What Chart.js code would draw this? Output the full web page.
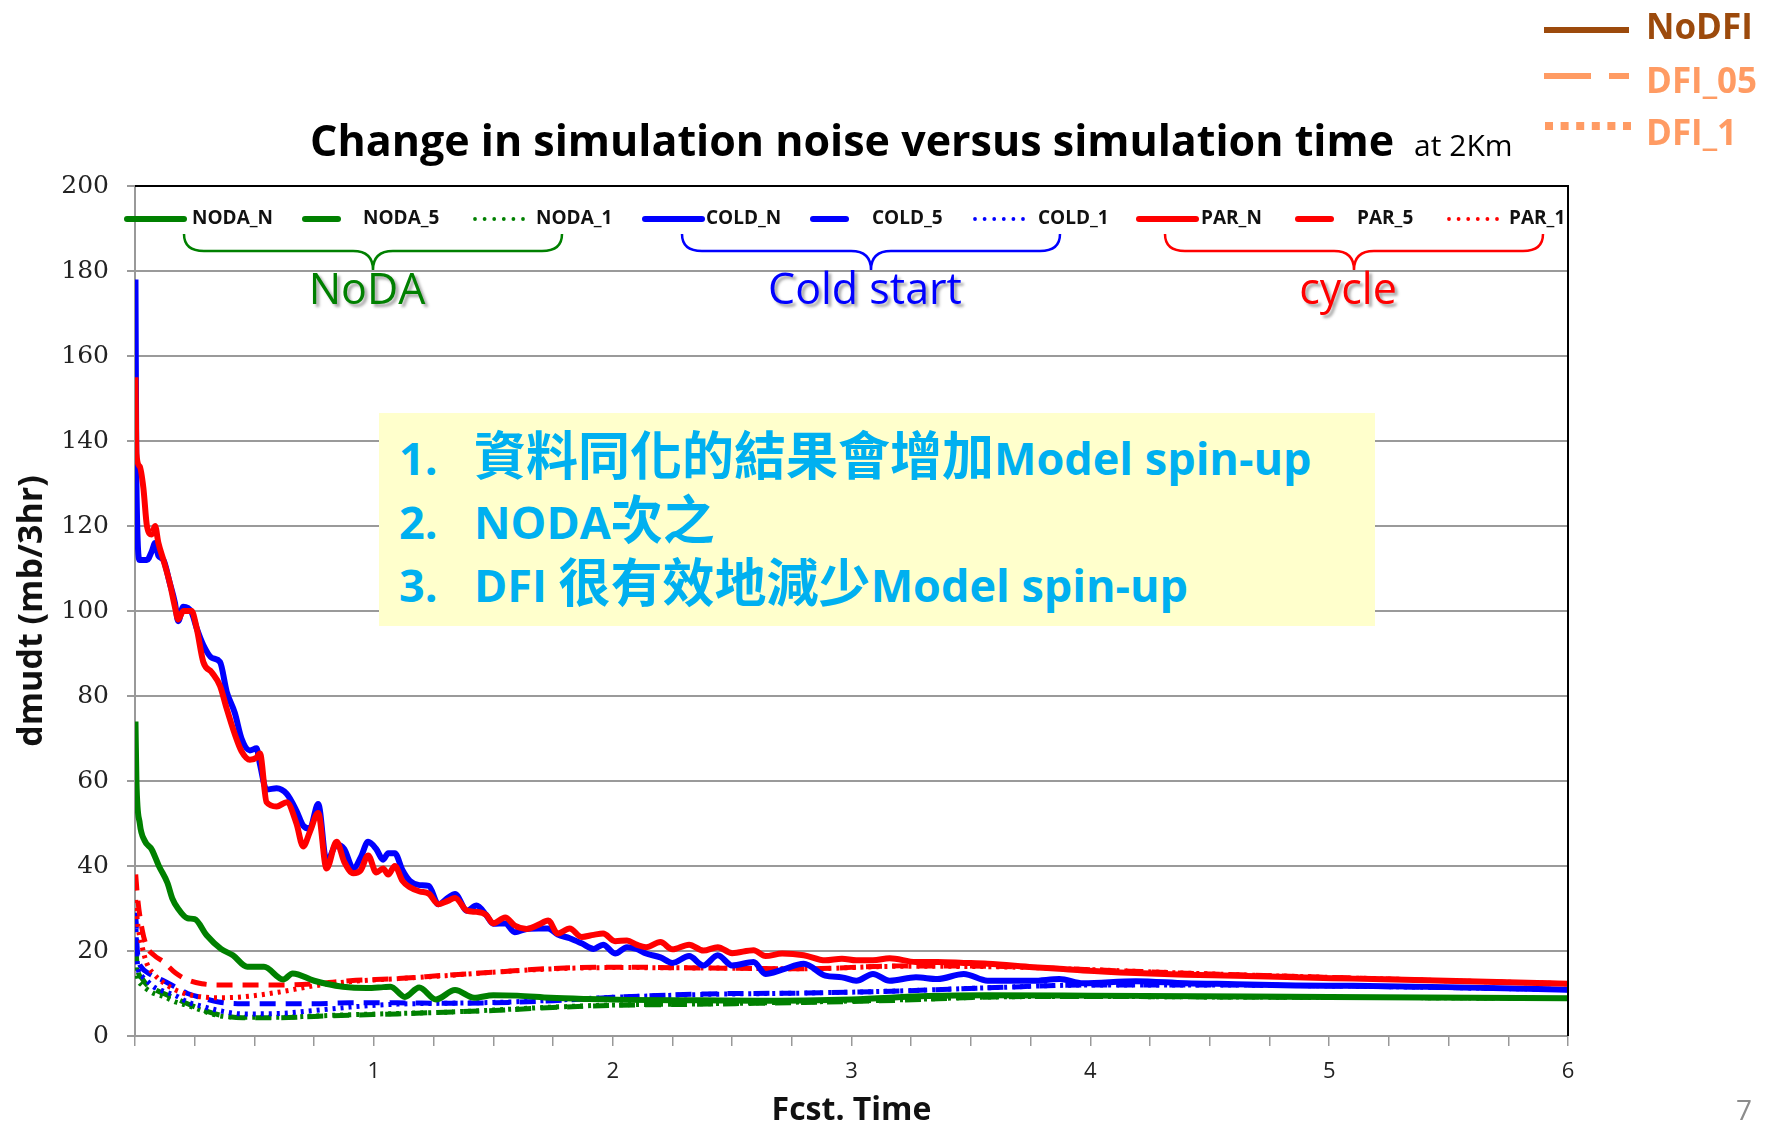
<!DOCTYPE html>
<html lang="zh-Hant">
<head>
<meta charset="UTF-8">
<title>Change in simulation noise versus simulation time</title>
<script src="https://cdn.jsdelivr.net/npm/chart.js"></script>
<style>
  html, body { margin: 0; padding: 0; background: #fff; }
  #wrap { position: relative; width: 1769px; height: 1127px; overflow: hidden; }
  #note { position: absolute; left: 379px; top: 413px; width: 996px; height: 213px; background: #ffffcc;
          color: #00b0f0; font-family: "Open Sans", "Noto Sans CJK TC", sans-serif; font-weight: bold; }
  .ln { position: absolute; left: 20px; height: 64px; line-height: 64px; white-space: pre; font-size: 45px; }
  .num { display: inline-block; width: 75px; }
  .zh { font-family: "Noto Sans CJK TC", sans-serif; font-size: 52px; }
  #page { position: absolute; left: 1736px; top: 1090px; font: 28px "Open Sans"; color: #8c8c8c; }
</style>
</head>
<body>
<div id="wrap">
  <canvas id="grafico" width="1769" height="1127"></canvas>
  <div id="note">
    <div class="ln" style="top:8px"><span class="num">1.</span><span class="zh">資料同化的結果會增加</span>Model spin-up</div>
    <div class="ln" style="top:72px"><span class="num">2.</span>NODA<span class="zh">次之</span></div>
    <div class="ln" style="top:135px"><span class="num">3.</span>DFI <span class="zh">很有效地減少</span>Model spin-up</div>
  </div>
  <div id="page">7</div>
</div>

<script>
// ---- data ----
const xTitle = 'Fcst. Time';
const yTitle = 'dmudt (mb/3hr)';
const seriesNames = ['NODA_N', 'NODA_5', 'NODA_1', 'COLD_N', 'COLD_5', 'COLD_1', 'PAR_N', 'PAR_5', 'PAR_1'];

// time for the COLD_N / PAR_N curves
const tN = [0.002, 0.006, 0.02, 0.035, 0.05, 0.07, 0.084, 0.098, 0.119, 0.146,
    0.167, 0.181, 0.202, 0.237, 0.258, 0.286, 0.321, 0.356, 0.384, 0.418,
    0.446, 0.481, 0.509, 0.523, 0.551, 0.593, 0.635, 0.676, 0.704, 0.732,
    0.767, 0.802, 0.844, 0.876, 0.914, 0.945, 0.976, 1.01, 1.039, 1.06,
    1.088, 1.12, 1.151, 1.192, 1.23, 1.27, 1.31, 1.34, 1.39, 1.43,
    1.47, 1.5, 1.55, 1.59, 1.64, 1.69, 1.73, 1.77, 1.82, 1.87,
    1.92, 1.96, 2.01, 2.06, 2.1, 2.14, 2.2, 2.25, 2.32, 2.38,
    2.44, 2.5, 2.59, 2.64, 2.71, 2.8, 2.89, 2.96, 3.02, 3.09,
    3.16, 3.27, 3.36, 3.47, 3.57, 3.76, 3.87, 3.97, 4.19, 4.4,
    4.61, 4.86, 5.1, 5.49, 6.0];
const coldN = [178, 130, 112, 112, 112, 114, 116, 113, 112, 106.5,
    102, 97.6, 101, 99.7, 96, 92, 89, 88, 81, 76,
    70, 67.2, 67.7, 64, 58, 58.3, 57, 53, 49.5, 48.8,
    54.6, 41, 45, 44, 39.4, 42, 45.7, 44, 41.5, 43,
    43, 39, 36.5, 35.5, 35.3, 31, 32.5, 33.4, 29.5, 30.7,
    28.5, 26.4, 26.5, 24.4, 25.2, 25.3, 25.3, 23.9, 23, 21.8,
    20.5, 21.5, 19.4, 20.9, 20.5, 19.4, 18.5, 17.2, 18.8, 16.6,
    19, 16.6, 17.4, 14.6, 15.6, 17, 14.2, 13.8, 13, 14.6,
    13, 13.8, 13.4, 14.6, 13, 13, 13.4, 12.4, 12.9, 12.4,
    12.2, 11.9, 11.8, 11.5, 10.9];
const parN = [155, 137, 134, 129, 120, 118, 120, 116, 112, 106.5,
    101, 98, 100, 100, 96, 88, 85.6, 82.4, 77, 71,
    67, 65, 65.5, 66.5, 55, 54, 55, 50, 44.6, 48,
    52.5, 39.4, 45.7, 41, 38.3, 39, 42.5, 38.5, 39.4, 38,
    40, 36.5, 35, 34, 33.5, 31, 31.8, 32.5, 29.5, 29.2,
    28.5, 26.5, 27.9, 26, 25.2, 26.2, 27.2, 24.1, 25.3, 23.3,
    23.8, 24.1, 22.3, 22.5, 21.5, 20.9, 22.1, 20.4, 21.5, 20.1,
    20.9, 19.5, 20.2, 18.8, 19.4, 19, 17.8, 18.2, 17.8, 17.8,
    18.3, 17.4, 17.4, 17.2, 17, 16.2, 15.8, 15.4, 14.8, 14.4,
    14.2, 13.8, 13.5, 13, 12.3];

// time for NODA_N
const tNoda = [0.002, 0.006, 0.02, 0.04, 0.07, 0.1, 0.136, 0.156, 0.18, 0.22,
    0.25, 0.3, 0.36, 0.41, 0.47, 0.54, 0.62, 0.66, 0.75, 0.8,
    0.87, 0.97, 1.04, 1.07, 1.13, 1.19, 1.26, 1.34, 1.42, 1.5,
    1.6, 1.74, 1.9, 2.06, 2.37, 2.6, 3.0, 3.32, 3.56, 4.0,
    5.0, 6.0];
const nodaN = [74, 60, 50, 46, 43.9, 40, 36, 32.4, 30, 27.7,
    27.5, 23.7, 20.5, 19, 16.3, 16.3, 13.3, 14.7, 13, 12.3,
    11.6, 11.3, 11.5, 11.6, 9.2, 11.4, 8.6, 10.8, 9, 9.6,
    9.5, 9, 8.7, 8.5, 8.4, 8.3, 8.6, 9.4, 9.6, 9.5,
    9.2, 8.9];

// time for the DFI runs (_5 and _1)
const tLow = [0.003, 0.01, 0.03, 0.05, 0.08, 0.12, 0.17, 0.22, 0.28, 0.35,
    0.45, 0.6, 0.75, 0.9, 1.1, 1.3, 1.5, 1.75, 2.0, 2.4,
    2.8, 3.2, 3.6, 4.0, 4.5, 5.0, 5.5, 6.0];
const noda5 = [21, 16, 13.5, 12, 11, 10, 8.8, 7.6, 6.2, 5, 4.3, 4.3, 4.6, 4.9, 5.2, 5.6, 6, 6.7, 7.2, 7.5, 7.9, 8.4, 9.2, 9.3, 9.2, 9.1, 9, 8.8];
const noda1 = [18, 14, 12, 11, 10, 9.3, 8, 7.2, 6, 4.8, 4.4, 4.4, 4.7, 5, 5.3, 5.6, 6.1, 6.8, 7.3, 7.6, 8, 8.5, 9.2, 9.3, 9.2, 9.1, 9, 8.8];
const cold5 = [29, 20, 16, 15, 14, 13, 11.5, 10, 9, 8, 7.6, 7.6, 7.6, 7.8, 7.8, 7.7, 7.8, 8.3, 9.1, 9.9, 10.1, 10.6, 11.4, 12, 12, 11.8, 11.4, 10.9];
const cold1 = [27, 17, 14, 13, 11.5, 10.5, 9.5, 8, 7, 6, 5.2, 5.3, 6, 6.8, 7.5, 7.7, 7.9, 8.4, 9.1, 9.8, 10.1, 10.6, 11.4, 12, 12, 11.8, 11.4, 10.9];
const par5 = [38, 33, 25, 21, 19, 17.4, 14.8, 13.2, 12.3, 12, 12, 12, 12.3, 13, 13.5, 14.3, 15, 15.9, 16.2, 16, 15.8, 16.5, 16.4, 15.6, 14.6, 13.8, 13, 12.3];
const par1 = [32, 27, 21, 17, 14.5, 12.5, 10.8, 9.8, 9.2, 9, 9.2, 10.3, 11.8, 12.8, 13.5, 14.2, 15, 15.8, 16.1, 16, 15.8, 16.4, 16.3, 15.6, 14.6, 13.8, 13, 12.3];

// ---- styles ----
const VERDE = '#008000', AZUL = '#0000ff', VERMELHO = '#ff0000';
const SOLIDO = [], TRACO = [16, 10], PONTO = [3, 5];

function pontos(t, v) {
    return t.map((x, i) => ({ x: x, y: v[i] }));
}

function serie(i, t, v, cor, dash, ordem) {
    return {
        label: seriesNames[i],
        data: pontos(t, v),
        borderColor: cor,
        backgroundColor: cor,
        borderWidth: dash.length ? 5 : 6,
        borderDash: dash,
        borderJoinStyle: 'round',
        pointRadius: 0,
        cubicInterpolationMode: 'monotone',
        fill: false,
        order: ordem
    };
}

const datasets = [
    serie(0, tNoda, nodaN, VERDE, SOLIDO, 2),
    serie(1, tLow, noda5, VERDE, TRACO, 7),
    serie(2, tLow, noda1, VERDE, PONTO, 8),
    serie(3, tN, coldN, AZUL, SOLIDO, 1),
    serie(4, tLow, cold5, AZUL, TRACO, 5),
    serie(5, tLow, cold1, AZUL, PONTO, 6),
    serie(6, tN, parN, VERMELHO, SOLIDO, 0),
    serie(7, tLow, par5, VERMELHO, TRACO, 3),
    serie(8, tLow, par1, VERMELHO, PONTO, 4)
];

// where each legend entry sits (sample start, text start)
const legendaPos = [[127, 192], [302, 363], [472, 536], [645, 706], [810, 872], [972, 1038], [1139, 1201], [1295, 1357], [1446, 1509]];
const grupos = [
    { nome: 'NoDA', cor: VERDE, x1: 184, x2: 562 },
    { nome: 'Cold start', cor: AZUL, x1: 682, x2: 1060 },
    { nome: 'cycle', cor: VERMELHO, x1: 1165, x2: 1543 }
];

function chave(ctx, x1, x2, yTopo, yMeio, yPonta, r) {
    const xc = (x1 + x2) / 2;
    ctx.beginPath();
    ctx.moveTo(x1, yTopo);
    ctx.quadraticCurveTo(x1, yMeio, x1 + r, yMeio);
    ctx.lineTo(xc - r, yMeio);
    ctx.quadraticCurveTo(xc, yMeio, xc, yPonta);
    ctx.moveTo(x2, yTopo);
    ctx.quadraticCurveTo(x2, yMeio, x2 - r, yMeio);
    ctx.lineTo(xc + r, yMeio);
    ctx.quadraticCurveTo(xc, yMeio, xc, yPonta);
    ctx.stroke();
}

const decor = {
    id: 'decor',
    afterDraw(chart) {
        const ctx = chart.ctx;
        const a = chart.chartArea;
        ctx.save();

        // right frame
        ctx.strokeStyle = '#000';
        ctx.lineWidth = 2;
        ctx.beginPath();
        ctx.moveTo(a.left, a.top);
        ctx.lineTo(a.right, a.top);
        ctx.lineTo(a.right, a.bottom);
        ctx.stroke();

        // title
        ctx.fillStyle = '#000';
        ctx.textBaseline = 'alphabetic';
        ctx.textAlign = 'left';
        ctx.font = 'bold 43px "Open Sans"';
        const titulo = 'Change in simulation noise versus simulation time';
        ctx.fillText(titulo, 310, 156);
        const w = ctx.measureText(titulo).width;
        ctx.font = '30px "Open Sans"';
        ctx.fillText('at 2Km', 310 + w + 20, 156);

        // legend inside the plot
        const y = 219;
        chart.data.datasets.forEach((ds, i) => {
            const [xs, xt] = legendaPos[i];
            ctx.strokeStyle = ds.borderColor;
            ctx.fillStyle = ds.borderColor;
            if (ds.borderDash.length === 0) {
                ctx.lineWidth = 6;
                ctx.lineCap = 'round';
                ctx.beginPath(); ctx.moveTo(xs, y); ctx.lineTo(xs + 57, y); ctx.stroke();
            } else if (ds.borderDash[0] > 5) {
                ctx.lineWidth = 6;
                ctx.lineCap = 'round';
                ctx.beginPath(); ctx.moveTo(xs + 3, y); ctx.lineTo(xs + 36, y); ctx.stroke();
            } else {
                for (let k = 0; k < 6; k++) {
                    ctx.beginPath(); ctx.arc(xs + 3 + k * 9.6, y, 1.9, 0, Math.PI * 2); ctx.fill();
                }
            }
            ctx.fillStyle = '#111';
            ctx.font = 'bold 19px "Open Sans"';
            ctx.textBaseline = 'middle';
            ctx.fillText(ds.label, xt, y);
        });

        // braces + group names
        grupos.forEach(g => {
            ctx.strokeStyle = g.cor;
            ctx.lineWidth = 2.5;
            ctx.lineCap = 'butt';
            chave(ctx, g.x1, g.x2, 234, 251, 270, 20);
            ctx.save();
            ctx.shadowColor = 'rgba(0,0,0,0.35)';
            ctx.shadowOffsetX = 3;
            ctx.shadowOffsetY = 3;
            ctx.shadowBlur = 3;
            ctx.fillStyle = g.cor;
            ctx.font = '43px "Open Sans"';
            ctx.textAlign = 'center';
            ctx.textBaseline = 'alphabetic';
            ctx.fillText(g.nome, (g.x1 + g.x2) / 2 - 6, 304);
            ctx.restore();
        });

        // DFI key, top right
        ctx.lineCap = 'butt';
        ctx.lineWidth = 6;
        ctx.strokeStyle = '#9c4a0c';
        ctx.beginPath(); ctx.moveTo(1544, 30); ctx.lineTo(1629, 30); ctx.stroke();
        ctx.strokeStyle = '#ff9b63';
        ctx.beginPath(); ctx.moveTo(1544, 76); ctx.lineTo(1591, 76); ctx.moveTo(1609, 76); ctx.lineTo(1629, 76); ctx.stroke();
        ctx.fillStyle = '#ff9b63';
        for (let k = 0; k < 6; k++) ctx.fillRect(1545 + k * 15.6, 122, 8, 8);
        ctx.font = 'bold 35px "Open Sans"';
        ctx.textAlign = 'left';
        ctx.textBaseline = 'alphabetic';
        ctx.fillStyle = '#9c4a0c';
        ctx.fillText('NoDFI', 1646, 39);
        ctx.fillStyle = '#ff9b63';
        ctx.fillText('DFI_05', 1646, 93);
        ctx.fillText('DFI_1', 1646, 145);

        ctx.restore();
    }
};

const config = {
    type: 'line',
    data: { datasets: datasets },
    options: {
        responsive: false,
        animation: false,
        devicePixelRatio: 1,
        events: [],
        layout: { padding: { top: 186, right: 201, bottom: 0, left: 0 } },
        plugins: { legend: { display: false }, tooltip: { enabled: false }, title: { display: false } },
        scales: {
            x: {
                type: 'linear', min: 0, max: 6,
                ticks: {
                    stepSize: 0.25, autoSkip: false, maxRotation: 0, padding: 13, color: '#222',
                    font: { family: '"Open Sans"', size: 22 },
                    callback: v => (v > 0 && Number.isInteger(v)) ? String(v) : ''
                },
                grid: { drawOnChartArea: false, drawTicks: true, tickLength: 10, color: '#999', lineWidth: 1.5 },
                border: { color: '#999', width: 2 },
                title: { display: true, text: xTitle, color: '#111', padding: 0,
                         font: { family: '"Open Sans"', size: 32, weight: 'bold', lineHeight: 1 } },
                afterFit(s) { s.height = 91; }
            },
            y: {
                min: 0, max: 200,
                ticks: { stepSize: 20, padding: 18, color: '#222', font: { family: '"DejaVu Serif"', size: 25 } },
                grid: {
                    color: c => (c.tick && c.tick.value === 200) ? '#000' : '#9a9a9a',
                    lineWidth: 2, tickLength: 8, tickColor: '#9a9a9a'
                },
                border: { color: '#999', width: 2 },
                title: { display: true, text: yTitle, color: '#111', padding: { top: 12, bottom: 0 },
                         font: { family: '"Open Sans"', size: 34, weight: 'bold', lineHeight: 1.2 } },
                afterFit(s) { s.width = 135; }
            }
        }
    },
    plugins: [decor]
};

const myChart = new Chart(document.getElementById('grafico'), config);
</script>
</body>
</html>
